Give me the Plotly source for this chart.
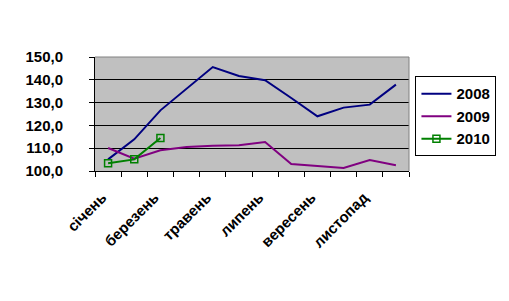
import plotly.graph_objects as go

months = ["січень", "лютий", "березень", "квітень", "травень", "червень",
          "липень", "серпень", "вересень", "жовтень", "листопад", "грудень"]
tick_text = ["січень", "", "березень", "", "травень", "", "липень", "",
             "вересень", "", "листопад", ""]
v2008 = [105.1, 113.9, 126.6, 136.1, 145.6, 141.7, 139.8, 132.0, 124.0, 127.8, 129.1, 137.9]
v2009 = [110.1, 105.4, 109.1, 110.5, 111.1, 111.3, 112.7, 103.1, 102.2, 101.3, 104.8, 102.5]
v2010 = [103.4, 105.1, 114.5]
y_ticks = [100, 110, 120, 130, 140, 150]

FONT = "Arial, Liberation Sans, sans-serif"
NB = "\u00a0"

fig = go.Figure()
fig.add_trace(go.Scatter(x=months, y=v2008, name="2008", mode="lines",
                         line=dict(color="#000080", width=2), legendgroup="a"))
fig.add_trace(go.Scatter(x=months, y=v2009, name="2009", mode="lines",
                         line=dict(color="#800080", width=2), legendgroup="b"))
fig.add_trace(go.Scatter(x=months[:3], y=v2010, name="2010", mode="lines+markers",
                         line=dict(color="#008000", width=2),
                         marker=dict(symbol="square-open", size=7, color="#008000",
                                     line=dict(width=1.5)),
                         legendgroup="c"))

fig.update_layout(
    width=509, height=301,
    margin=dict(l=95, r=98, t=57, b=130),
    paper_bgcolor="white",
    plot_bgcolor="#C0C0C0",
    separators=", ",
    font=dict(family=FONT, size=15, color="black"),
    showlegend=True,
    legend=dict(x=(499 - 95) / 316, y=0.83, xanchor="right", yanchor="top",
                bordercolor="black", borderwidth=1, bgcolor="white",
                font=dict(family=FONT, size=15, color="black", weight="bold"),
                tracegroupgap=6, traceorder="normal"),
    xaxis=dict(type="category", tickvals=months,
               ticktext=[t + NB + NB if t else "" for t in tick_text],
               tickson="boundaries", ticks="outside", ticklen=5, tickcolor="black",
               showline=True, linecolor="black", linewidth=1,
               showgrid=False, tickangle=-45, ticklabelstandoff=5,
               tickfont=dict(family=FONT, size=15, color="black", weight="bold"),
               range=[-0.5, 11.5]),
    yaxis=dict(range=[100, 150], tickvals=y_ticks, tickformat=".1f",
               ticks="outside", ticklen=5, tickcolor="black",
               showline=True, linecolor="black", linewidth=1,
               showgrid=True, gridcolor="black", gridwidth=1,
               zeroline=False, ticklabelstandoff=23,
               tickfont=dict(family=FONT, size=15, color="black", weight="bold")),
    shapes=[
        dict(type="line", xref="paper", yref="paper", x0=0, x1=1, y0=1, y1=1,
             line=dict(color="#808080", width=1)),
        dict(type="line", xref="paper", yref="paper", x0=1, x1=1, y0=0, y1=1,
             line=dict(color="#808080", width=1)),
    ],
)

fig.write_html("out.html")
